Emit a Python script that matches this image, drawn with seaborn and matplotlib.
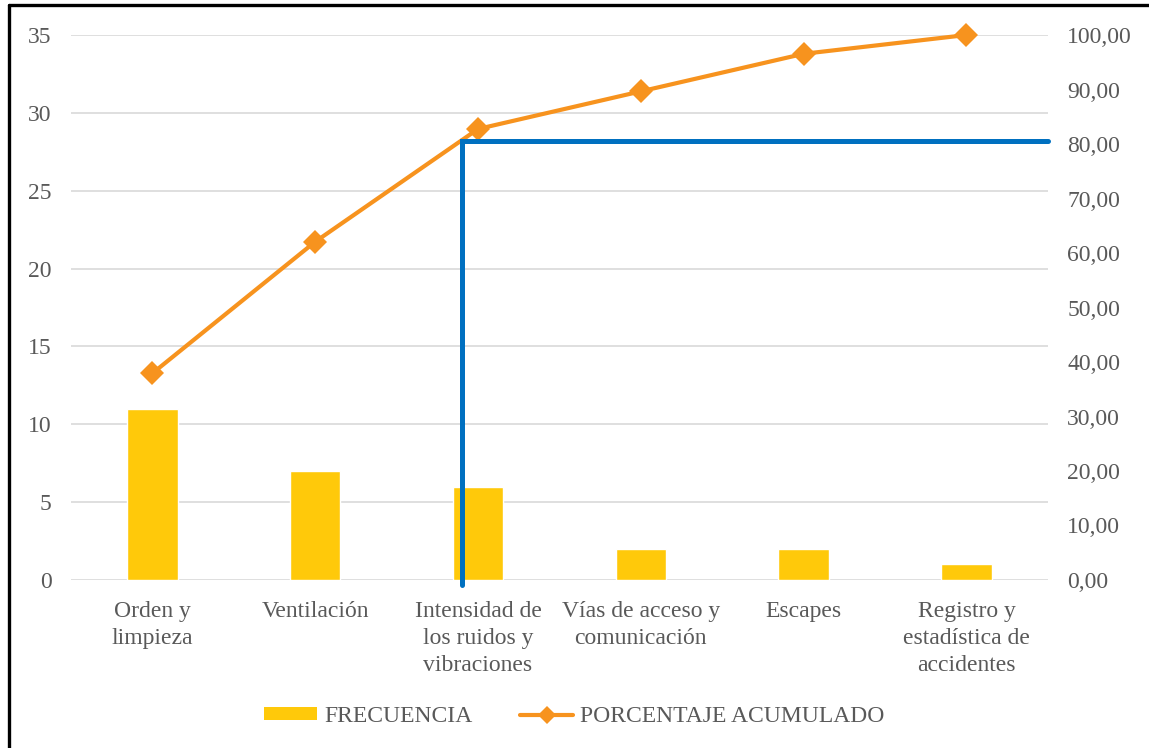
import numpy as np
import pandas as pd
import matplotlib
matplotlib.use("Agg")
import matplotlib.pyplot as plt
from matplotlib.lines import Line2D
from matplotlib.patches import Patch
import seaborn as sns

# Pareto data
categorias = ["Orden y\nlimpieza", "Ventilación", "Intensidad de\nlos ruidos y\nvibraciones",
              "Vías de acceso y\ncomunicación", "Escapes", "Registro y\nestadística de\naccidentes"]
frecuencia = [11, 7, 6, 2, 2, 1]
porcentaje_acumulado = [37.93, 62.07, 82.76, 89.66, 96.55, 100.00]
corte_x = [1.9, 1.9, 5.5]
corte_y = [-0.9, 80.6, 80.6]

left_ticks = [0, 5, 10, 15, 20, 25, 30, 35]
right_ticks = [0, 10, 20, 30, 40, 50, 60, 70, 80, 90, 100]

sns.set_theme(style="white")
plt.rcParams["font.family"] = ["Liberation Serif", "DejaVu Serif"]
txt = "#595959"
bar_color = "#FFC90A"
line_color = "#F7931E"
blue = "#0070C0"
fs = 17

fig = plt.figure(figsize=(11.49, 7.48), dpi=100)
ax = fig.add_axes([0.0618, 0.2246, 0.8502, 0.7286])

df = pd.DataFrame({"cat": categorias, "freq": frecuencia})
sns.barplot(data=df, x="cat", y="freq", color=bar_color, width=0.31,
            saturation=1, ax=ax, zorder=2)
ax.set_ylim(0, 35)
ax.set_xlim(-0.5, 5.5)
ax.set_yticks(left_ticks)
ax.set_yticklabels([str(t) for t in left_ticks])
ax.yaxis.grid(True, color="#D9D9D9", linewidth=1.2, zorder=0)
ax.set_axisbelow(True)
ax.set_xlabel("")
ax.set_ylabel("")
for s in ax.spines.values():
    s.set_visible(False)
ax.tick_params(axis="y", length=0, pad=14, labelsize=fs, labelcolor=txt)
ax.tick_params(axis="x", length=0, pad=15, labelsize=fs, labelcolor=txt)
for lab in ax.get_xticklabels():
    lab.set_linespacing(1.38)
    lab.set_verticalalignment("top")

ax2 = ax.twinx()
x_idx = np.arange(len(porcentaje_acumulado))
sns.lineplot(x=x_idx, y=porcentaje_acumulado, color=line_color, linewidth=3.0,
             marker="D", markersize=12, markeredgewidth=0, ax=ax2, zorder=4,
             clip_on=False)
ax2.plot(corte_x, corte_y, color=blue, linewidth=3.6, clip_on=False, zorder=5,
         solid_joinstyle="miter")
ax2.set_ylim(0, 100)
ax2.set_yticks(right_ticks)
ax2.set_yticklabels([f"{t},00" for t in right_ticks])
ax2.set_xlim(-0.5, 5.5)
for s in ax2.spines.values():
    s.set_visible(False)
ax2.tick_params(axis="y", length=0, pad=14, labelsize=fs, labelcolor=txt)
ax2.set_ylabel("")

handles = [Patch(facecolor=bar_color, edgecolor="none"),
           Line2D([0], [0], color=line_color, linewidth=3.0, marker="D",
                  markersize=9, markeredgewidth=0)]
fig.legend(handles, ["FRECUENCIA", "PORCENTAJE ACUMULADO"], loc="center",
           bbox_to_anchor=(0.5, 0.042), ncol=2, frameon=False, fontsize=fs,
           labelcolor=txt, handlelength=2.25, handleheight=0.5, handletextpad=0.3,
           columnspacing=2.0)

# outer frame (left and top edges)
fig.add_artist(Line2D([9 / 1149, 9 / 1149], [0, 1 - 5 / 748], color="black",
                      linewidth=2.4, transform=fig.transFigure))
fig.add_artist(Line2D([9 / 1149, 1], [1 - 5 / 748, 1 - 5 / 748], color="black",
                      linewidth=2.4, transform=fig.transFigure))

fig.savefig("out.png", dpi=100)
